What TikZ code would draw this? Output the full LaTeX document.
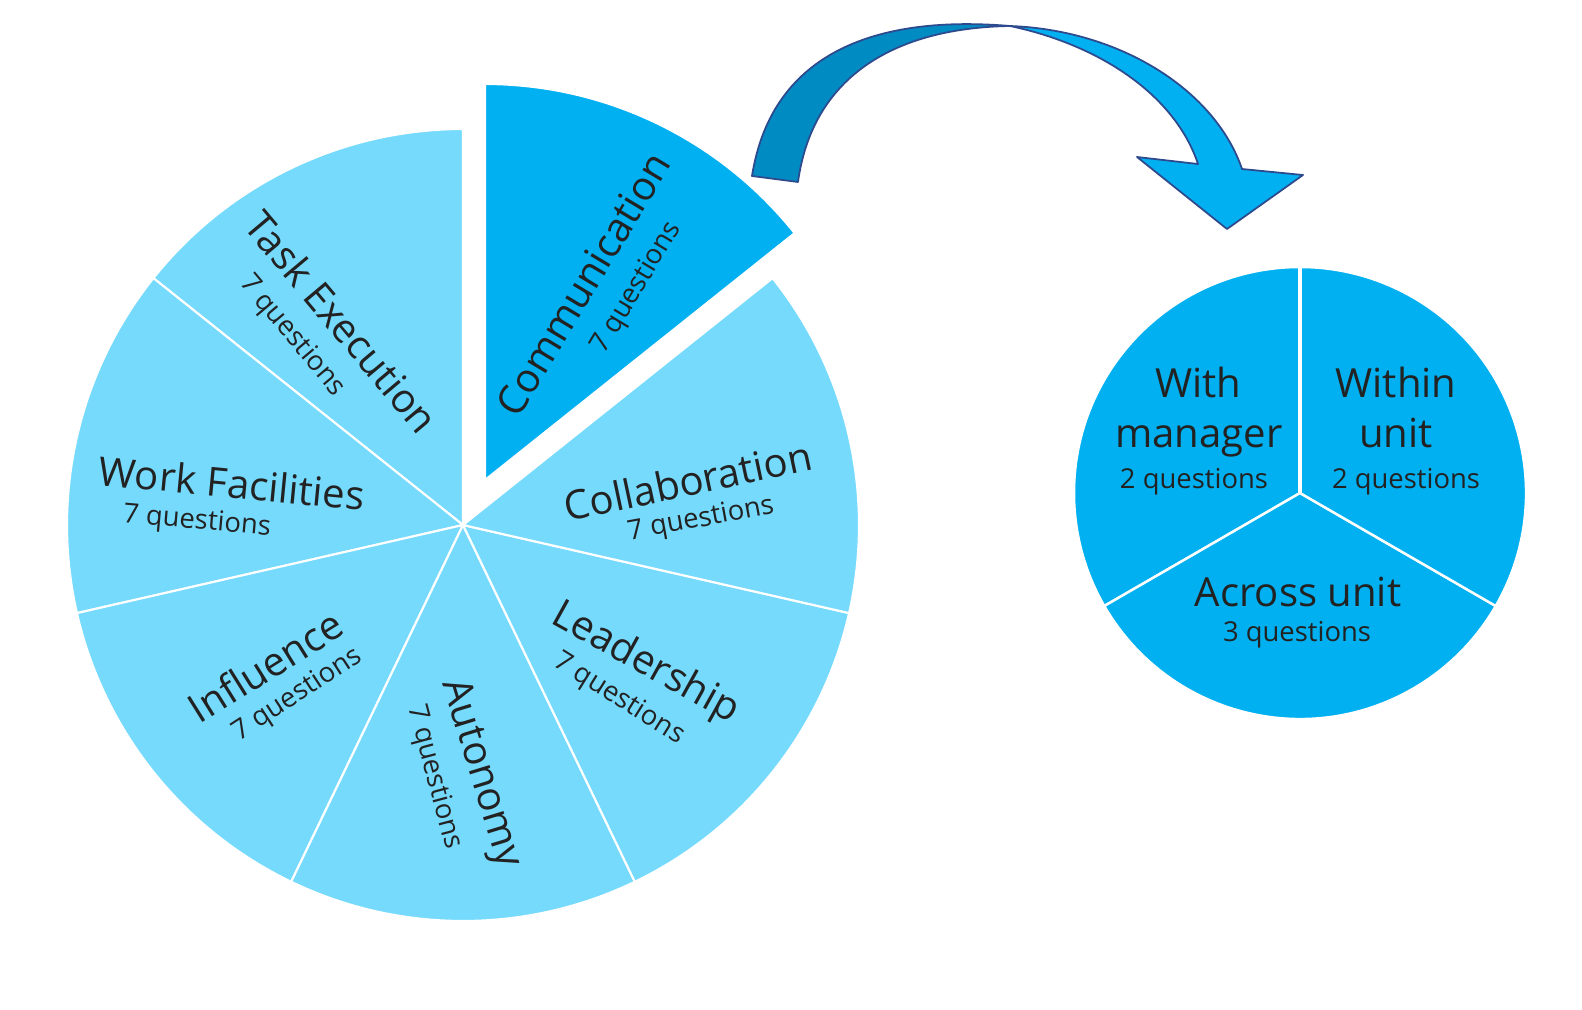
\documentclass[tikz,border=0pt]{standalone}
\usepackage{fontspec}
\setmainfont{Open Sans}
\definecolor{sliceblue}{HTML}{76DAFD}
\definecolor{mainblue}{HTML}{00B0F0}
\definecolor{arrowdark}{HTML}{008BC2}
\definecolor{arrowline}{HTML}{2E4A8E}
\definecolor{textgray}{HTML}{222222}
\begin{document}
\begin{tikzpicture}[x=0.01cm, y=0.01cm]
    % Define styles
    \tikzset{
        slice/.style={fill=sliceblue, draw=white, line width=0.6pt},
        mainslice/.style={fill=mainblue, draw=white, line width=0.6pt},
        bigtext/.style={font=\fontsize{11.4}{13}\selectfont, text=textgray, inner sep=0pt},
        smalltext/.style={font=\fontsize{7.8}{9}\selectfont, text=textgray, inner sep=0pt},
        arrowback/.style={fill=arrowdark, draw=arrowline, line width=0.5pt, line join=round},
        arrowfront/.style={fill=mainblue, draw=arrowline, line width=0.5pt, line join=round}
    }
    \fill[white] (0,0) rectangle (1582,-1009);
    \useasboundingbox (0,0) rectangle (1582,-1009);
    % Centres of the pies
    \coordinate (bigc) at (463,-525);
    \coordinate (commc) at (485,-480);
    \coordinate (smallc) at (1300,-493);
    % Six light slices of the big pie
    \foreach \k in {0,...,5}
        \filldraw[slice] (bigc) -- ++({90+51.4286*\k}:396)
            arc[start angle={90+51.4286*\k}, delta angle=51.4286, radius=396] -- cycle;
    % Communication slice, pulled out
    \filldraw[mainslice] (commc) -- ++(38.57:396)
        arc[start angle=38.57, end angle=90, radius=396] -- cycle;
    % Small pie
    \foreach \a in {90,210,330}
        \filldraw[mainslice, line width=0.7pt] (smallc) -- ++(\a:226)
            arc[start angle=\a, delta angle=120, radius=226] -- cycle;
    \coordinate (smalltop) at (1300,-264);
    \draw[white, line width=1.2pt] (smallc) -- (smalltop);
    % Curved arrow
    \coordinate (twist) at (1010,-26);
    \filldraw[arrowback] (752,-176) .. controls (772,-50) and (880,-15) .. (twist)
        .. controls (890,-28) and (812,-80) .. (798,-182) -- cycle;
    \filldraw[arrowfront] (twist) .. controls (1120,-30) and (1215,-90) .. (1242,-169)
        -- (1303,-175) -- (1227,-229) -- (1137,-157) -- (1198,-164)
        .. controls (1175,-95) and (1100,-45) .. (twist) -- cycle;
    % Labels of the big pie
    \node[bigtext, rotate=59] (comm) at (583,-284) {Communication};
    \node[smalltext, rotate=59] (comm-q) at (637,-288) {7 questions};
    \node[bigtext, rotate=-50] (task) at (342,-322) {Task Execution};
    \node[smalltext, rotate=-50] (task-q) at (292,-336) {7 questions};
    \node[bigtext, rotate=-5.5] (work) at (232,-483) {Work Facilities};
    \node[smalltext, rotate=-5] (work-q) at (197,-522) {7 questions};
    \node[bigtext, rotate=32] (infl) at (265,-666) {Influence};
    \node[smalltext, rotate=33] (infl-q) at (298,-695) {7 questions};
    \node[bigtext, rotate=-73] (auto) at (480,-774) {Autonomy};
    \node[smalltext, rotate=-75] (auto-q) at (434,-777) {7 questions};
    \node[bigtext, rotate=-29] (lead) at (645,-664) {Leadership};
    \node[smalltext, rotate=-32] (lead-q) at (619,-699) {7 questions};
    \node[bigtext, rotate=12] (coll) at (688,-481) {Collaboration};
    \node[smalltext, rotate=10.5] (coll-q) at (701,-520) {7 questions};
    % Labels of the small pie
    \node[bigtext, anchor=base] (with) at (1198,-397) {With};
    \node[bigtext, anchor=base] (manager) at (1199,-447) {manager};
    \node[smalltext, anchor=base] (with-q) at (1194,-488) {2 questions};
    \node[bigtext, anchor=base] (within) at (1396,-397) {Within};
    \node[bigtext, anchor=base] (unit) at (1396,-447) {unit};
    \node[smalltext, anchor=base] (within-q) at (1406,-488) {2 questions};
    \node[bigtext, anchor=base] (across) at (1298,-606) {Across unit};
    \node[smalltext, anchor=base] (across-q) at (1297,-641) {3 questions};
\end{tikzpicture}
\end{document}
